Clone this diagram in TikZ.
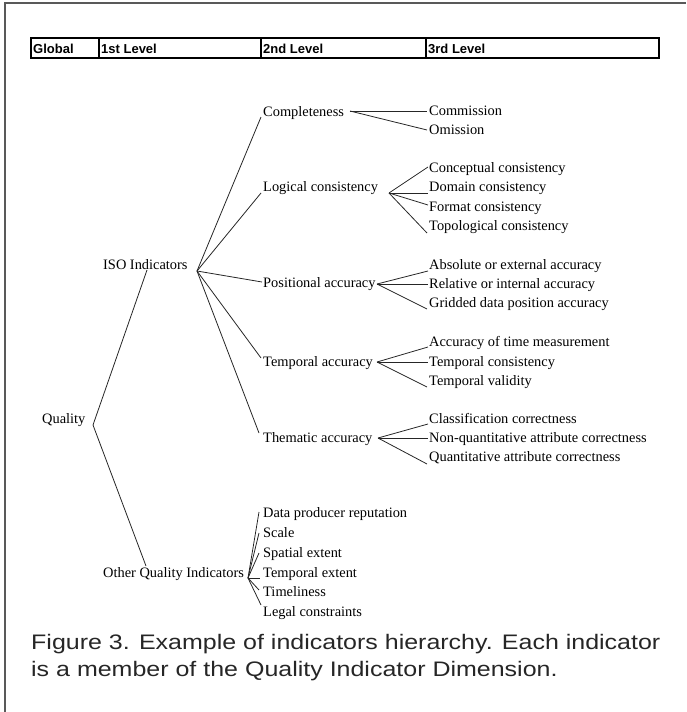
\documentclass[tikz,border=0pt]{standalone}
\usepackage{fontspec}
\setmainfont{Liberation Serif}
\newfontfamily\hdrfont{Liberation Sans}
\usetikzlibrary{calc}
\begin{document}
\begin{tikzpicture}[x=1pt,y=-1pt,
  lbl/.style={anchor=west, inner sep=0pt, text height=9.5pt, text depth=0pt, font=\fontsize{14.4}{16}\selectfont},
  conn/.style={draw=black!85, line width=0.8pt},
  hdr/.style={anchor=base west, inner sep=0pt, font=\hdrfont\bfseries\fontsize{13}{14}\selectfont},
  captxt/.style={anchor=base west, inner sep=0pt, font=\hdrfont\fontsize{21}{25}\selectfont, text=black!85},
  framestyle/.style={draw=black!65, line width=2pt},
  tbl/.style={draw=black, line width=1.1pt}]
\useasboundingbox (0,0) rectangle (686,712);
% frame
\draw[framestyle] (5,712) -- (5,3) -- (686,3);
% header table
\draw[tbl] (31,38) rectangle (659,58);
\draw[tbl] (99,38) -- (99,58) (261,38) -- (261,58) (426,38) -- (426,58);
\node[hdr] (hg) at (33,53) {Global};
\node[hdr] (h1) at (101,53) {1st Level};
\node[hdr] (h2) at (263,53) {2nd Level};
\node[hdr] (h3) at (428,53) {3rd Level};
% level 0 and 1
\node[lbl] (quality) at (42,419) {Quality};
\node[lbl] (iso) at (103,265) {ISO Indicators};
\node[lbl] (oqi) at (103,573) {Other Quality Indicators};
\coordinate (vQ) at (93,425);
\coordinate (vI) at (197,271);
\coordinate (vO) at (248,578);
\draw[conn] (vQ) -- ($(iso.west)+(44,5)$);
\draw[conn] (vQ) -- ($(oqi.west)+(43,-7)$);
% level 2
\node[lbl] (compl) at (263,112) {Completeness};
\node[lbl] (logic) at (263,187) {Logical consistency};
\node[lbl] (posit) at (263,283) {Positional accuracy};
\node[lbl] (tempo) at (263,362) {Temporal accuracy};
\node[lbl] (thema) at (263,438) {Thematic accuracy};
\draw[conn] (vI) -- ($(compl.west)+(-2,5)$);
\draw[conn] (vI) -- ($(logic.west)+(-2,6)$);
\draw[conn] (vI) -- ($(posit.west)+(-1,-1)$);
\draw[conn] (vI) -- ($(tempo.west)+(-2,-4)$);
\draw[conn] (vI) -- ($(thema.west)+(-4,-5)$);
\coordinate (vC) at (350,111);
\coordinate (vL) at (389,193);
\coordinate (vP) at (377,284);
\coordinate (vT) at (377,362);
\coordinate (vH) at (378,438);
% level 3: completeness
\node[lbl] (comm) at (429,111) {Commission};
\node[lbl] (omis) at (429,130) {Omission};
\draw[conn] (vC) -- ($(comm.west)+(-2,0)$);
\draw[conn] (vC) -- ($(omis.west)+(-2,0)$);
% logical consistency
\node[lbl] (conc) at (429,168) {Conceptual consistency};
\node[lbl] (doma) at (429,187) {Domain consistency};
\node[lbl] (form) at (429,207) {Format consistency};
\node[lbl] (topo) at (429,226) {Topological consistency};
\draw[conn] (vL) -- ($(conc.west)+(-1,-1)$);
\draw[conn] (vL) -- ($(doma.west)+(-1,6)$);
\draw[conn] (vL) -- ($(form.west)+(-1,-2)$);
\draw[conn] (vL) -- ($(topo.west)+(-2,7)$);
% positional accuracy
\node[lbl] (abso) at (429,265) {Absolute or external accuracy};
\node[lbl] (rela) at (429,284) {Relative or internal accuracy};
\node[lbl] (grid) at (429,303) {Gridded data position accuracy};
\draw[conn] (vP) -- ($(abso.west)+(-1,6)$);
\draw[conn] (vP) -- ($(rela.west)+(-1,0)$);
\draw[conn] (vP) -- ($(grid.west)+(-2,6)$);
% temporal accuracy
\node[lbl] (atm) at (429,342) {Accuracy of time measurement};
\node[lbl] (tcon) at (429,362) {Temporal consistency};
\node[lbl] (tval) at (429,381) {Temporal validity};
\draw[conn] (vT) -- ($(atm.west)+(-1,5)$);
\draw[conn] (vT) -- ($(tcon.west)+(-1,0)$);
\draw[conn] (vT) -- ($(tval.west)+(-2,6)$);
% thematic accuracy
\node[lbl] (clas) at (429,419) {Classification correctness};
\node[lbl] (nqac) at (429,438) {Non-quantitative attribute correctness};
\node[lbl] (qac) at (429,457) {Quantitative attribute correctness};
\draw[conn] (vH) -- ($(clas.west)+(-1,5)$);
\draw[conn] (vH) -- ($(nqac.west)+(-1,0)$);
\draw[conn] (vH) -- ($(qac.west)+(-2,7)$);
% other quality indicators
\node[lbl] (dpr) at (263,513) {Data producer reputation};
\node[lbl] (scal) at (263,533) {Scale};
\node[lbl] (spat) at (263,553) {Spatial extent};
\node[lbl] (tex) at (263,573) {Temporal extent};
\node[lbl] (tim) at (263,592) {Timeliness};
\node[lbl] (lega) at (263,612) {Legal constraints};
\draw[conn] (vO) -- ($(dpr.west)+(-4,-1)$);
\draw[conn] (vO) -- ($(scal.west)+(-4,0)$);
\draw[conn] (vO) -- ($(spat.west)+(-4,0)$);
\draw[conn] (vO) -- ($(tex.west)+(-3,5)$);
\draw[conn] (vO) -- ($(tim.west)+(-4,-2)$);
\draw[conn] (vO) -- ($(lega.west)+(-2,-7)$);
% caption
\node[captxt] (cap1) at (31,649) {\scalebox{1.19}[1]{Figure 3. Example of indicators hierarchy. Each indicator}};
\node[captxt] (cap2) at (31,676) {\scalebox{1.19}[1]{is a member of the Quality Indicator Dimension.}};
\end{tikzpicture}
\end{document}
